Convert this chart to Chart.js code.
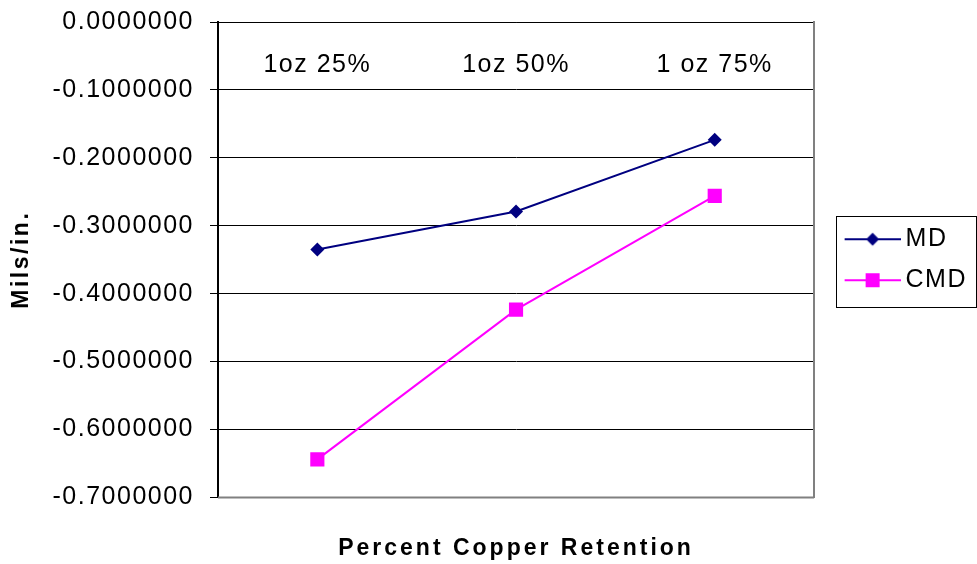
<!DOCTYPE html>
<html>
<head>
<meta charset="utf-8">
<script src="https://cdn.jsdelivr.net/npm/chart.js@4"></script>
<style>
  html, body { margin: 0; padding: 0; background: #fff; }
  #wrap { width: 977px; height: 564px; }
</style>
</head>
<body>
<div id="wrap"><canvas id="copperChart" width="977" height="564"></canvas></div>
<script>
var categories = ['1oz 25%', '1oz 50%', '1 oz 75%'];
var mdValues = [-0.335, -0.279, -0.1735];
var cmdValues = [-0.644, -0.4235, -0.256];
var yMin = -0.7, yMax = 0, yStep = 0.1;

var FONT = "'Liberation Sans', Arial, sans-serif";

// line + marker image used as the legend symbol (line sits right of centre)
function legendIcon(color, shape) {
    var c = document.createElement('canvas');
    c.width = 70; c.height = 20;
    var g = c.getContext('2d');
    g.strokeStyle = color; g.lineWidth = 2;
    g.beginPath(); g.moveTo(14, 10); g.lineTo(70, 10); g.stroke();
    g.fillStyle = color;
    if (shape === 'diamond') {
        g.beginPath(); g.moveTo(42, 3.5); g.lineTo(48.5, 10); g.lineTo(42, 16.5); g.lineTo(35.5, 10); g.closePath(); g.fill();
    } else {
        g.fillRect(35, 3, 14, 14);
    }
    return c;
}
var icons = [legendIcon('#000080', 'diamond'), legendIcon('#FF00FF', 'square')];

var plotFrame = {
    id: 'plotFrame',
    beforeUpdate: function(chart) {
        chart.ctx.letterSpacing = '1.5px';
    },
    beforeDatasetsDraw: function(chart) {
        var a = chart.chartArea, ctx = chart.ctx;
        ctx.save();
        ctx.strokeStyle = '#808080';
        ctx.lineWidth = 2;
        ctx.beginPath();
        ctx.moveTo(a.left, a.bottom); ctx.lineTo(a.right, a.bottom);
        ctx.stroke();
        ctx.restore();
    },
    afterDraw: function(chart) {
        var boxes = chart.legend.legendHitBoxes;
        if (!boxes || !boxes.length) return;
        var ctx = chart.ctx;
        var left = boxes[0].left - 2;
        var top = boxes[0].top - 11;
        var last = boxes[boxes.length - 1];
        var bottom = last.top + last.height + 14;
        ctx.save();
        ctx.strokeStyle = '#000';
        ctx.lineWidth = 1;
        ctx.strokeRect(Math.round(left) + 0.5, Math.round(top) + 0.5, chart.width - Math.round(left) - 1, Math.round(bottom - top));
        ctx.restore();
    }
};

function spaced(fn, px) {
    return function() {
        var c = this.ctx || this.chart.ctx;
        var old = c.letterSpacing;
        c.letterSpacing = px;
        fn.apply(this, arguments);
        c.letterSpacing = old;
    };
}

var ctx = document.getElementById('copperChart').getContext('2d');
var copperChart = new Chart(ctx, {
    type: 'line',
    data: {
        labels: categories,
        datasets: [{
            label: 'MD',
            data: mdValues,
            borderColor: '#000080',
            backgroundColor: '#000080',
            borderWidth: 2,
            pointStyle: 'rectRot',
            pointRadius: 7,
            pointBorderWidth: 0,
            tension: 0
        }, {
            label: 'CMD',
            data: cmdValues,
            borderColor: '#FF00FF',
            backgroundColor: '#FF00FF',
            borderWidth: 2,
            pointStyle: 'rect',
            pointRadius: 10,
            pointBorderWidth: 0,
            tension: 0
        }]
    },
    options: {
        responsive: false,
        animation: false,
        layout: { padding: { left: 0, right: 0, top: 22, bottom: 0 } },
        scales: {
            x: {
                position: 'top',
                offset: true,
                grid: { display: false, drawTicks: false },
                border: { color: '#000', width: 1 },
                ticks: {
                    color: '#000',
                    font: { family: FONT, size: 25 },
                    mirror: true,
                    padding: 28,
                    maxRotation: 0,
                    autoSkip: false
                },
                afterFit: function(scale) { scale.height = 0; }
            },
            y: {
                min: yMin,
                max: yMax,
                grid: { color: '#000', lineWidth: 1, tickLength: 8, tickColor: '#000' },
                border: { color: '#000', width: 2 },
                ticks: {
                    stepSize: yStep,
                    color: '#000',
                    padding: 16,
                    font: { family: FONT, size: 25 },
                    callback: function(v) { return (Math.abs(v) < 1e-9 ? 0 : v).toFixed(7); }
                },
                title: {
                    display: true,
                    text: 'Mils/in.',
                    color: '#000',
                    font: { family: FONT, size: 23, weight: 'bold' },
                    padding: { top: 8, bottom: 0 }
                },
                afterFit: function(scale) {
                    scale.width = 218;
                    scale.paddingTop = 0;
                    scale.paddingBottom = 0;
                }
            },
            gap: {
                // empty right-hand axis: gray plot border and the space before the legend
                type: 'linear',
                position: 'right',
                min: yMin,
                max: yMax,
                grid: { display: false, drawTicks: false },
                border: { color: '#808080', width: 2 },
                ticks: { display: false },
                afterFit: function(scale) { scale.width = 8; }
            }
        },
        plugins: {
            title: {
                display: true,
                position: 'bottom',
                fullSize: false,
                text: 'Percent Copper Retention',
                color: '#000',
                font: { family: FONT, size: 23, weight: 'bold' },
                padding: { top: 37, bottom: 2 }
            },
            legend: {
                position: 'right',
                fullSize: false,
                labels: {
                    color: '#000',
                    font: { family: FONT, size: 25 },
                    usePointStyle: true,
                    pointStyleWidth: 55,
                    padding: 16,
                    generateLabels: function(chart) {
                        var items = Chart.defaults.plugins.legend.labels.generateLabels(chart);
                        items.forEach(function(it, i) { it.pointStyle = icons[i]; });
                        return items;
                    }
                }
            },
            tooltip: { enabled: false }
        }
    },
    plugins: [plotFrame]
});

// wider letter spacing for the two axis titles, as in the original
copperChart.titleBlock.draw = spaced(copperChart.titleBlock.draw, '3px');
copperChart.scales.y.drawTitle = spaced(copperChart.scales.y.drawTitle, '2.5px');
copperChart.draw();
</script>
</body>
</html>
